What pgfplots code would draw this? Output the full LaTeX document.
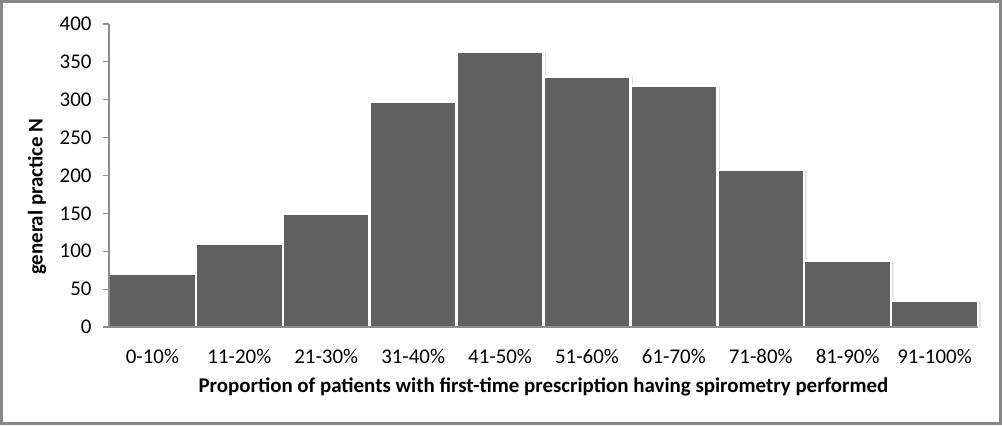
\documentclass[border=0pt]{standalone}
\usepackage{pgfplots}
\pgfplotsset{compat=1.18}
\usepackage{fontspec}
\setmainfont{Carlito}
\definecolor{barfill}{HTML}{606060}
\definecolor{shadowgray}{HTML}{DDDDDD}
\definecolor{axgray}{HTML}{8C8C8C}
\definecolor{framegray}{HTML}{878787}
\pgfplotstableread{
x y
0 70
1 110
2 150
3 297
4 363
5 331
6 318
7 207
8 88
9 34
}\bars
\begin{document}
\begin{tikzpicture}
\begin{axis}[
  name=ax,
  scale only axis,
  width=869bp, height=303bp,
  xmin=-0.5, xmax=9.5,
  ymin=0, ymax=400,
  ytick={0,50,...,400},
  xtick={0,...,9},
  xticklabels={0-10\%,11-20\%,21-30\%,31-40\%,41-50\%,51-60\%,61-70\%,71-80\%,81-90\%,91-100\%},
  axis y line=left, axis x line=bottom,
  axis line style={axgray, line width=1.2bp, -},
  x axis line style={shorten <=-6bp},
  major tick length=6bp,
  ytick style={axgray, line width=1.2bp},
  xtick style={draw=none},
  tick align=outside,
  axis on top,
  font=\fontsize{21}{24}\selectfont,
  /pgf/number format/assume math mode=true,
  yticklabel style={xshift=-8bp},
  xticklabel style={yshift=-13bp},
  xlabel={\bfseries Proportion of patients with first-time prescription having spirometry performed},
  ylabel={\bfseries general practice N},
  xlabel style={font=\fontsize{21}{24}\selectfont, at={(axis description cs:0.5,-0.198)}, anchor=center},
  ylabel style={font=\fontsize{21}{24}\selectfont, at={(axis description cs:-0.0829,0.43)}, anchor=center},
  clip=false,
]
\addplot[ybar, bar width=86.9bp, bar shift=2.5bp, fill=shadowgray, draw=none]
  table[x=x, y=y] {\bars};
\addplot[ybar, bar width=86.9bp, bar shift=0pt, fill=barfill, draw=white, line width=2.5bp]
  table[x=x, y=y] {\bars};
\end{axis}
\draw[framegray, line width=3bp] ([shift={(-107.5bp,-96.5bp)}]ax.south west) rectangle ([shift={(22.5bp,22.5bp)}]ax.north east);
\end{tikzpicture}
\end{document}
